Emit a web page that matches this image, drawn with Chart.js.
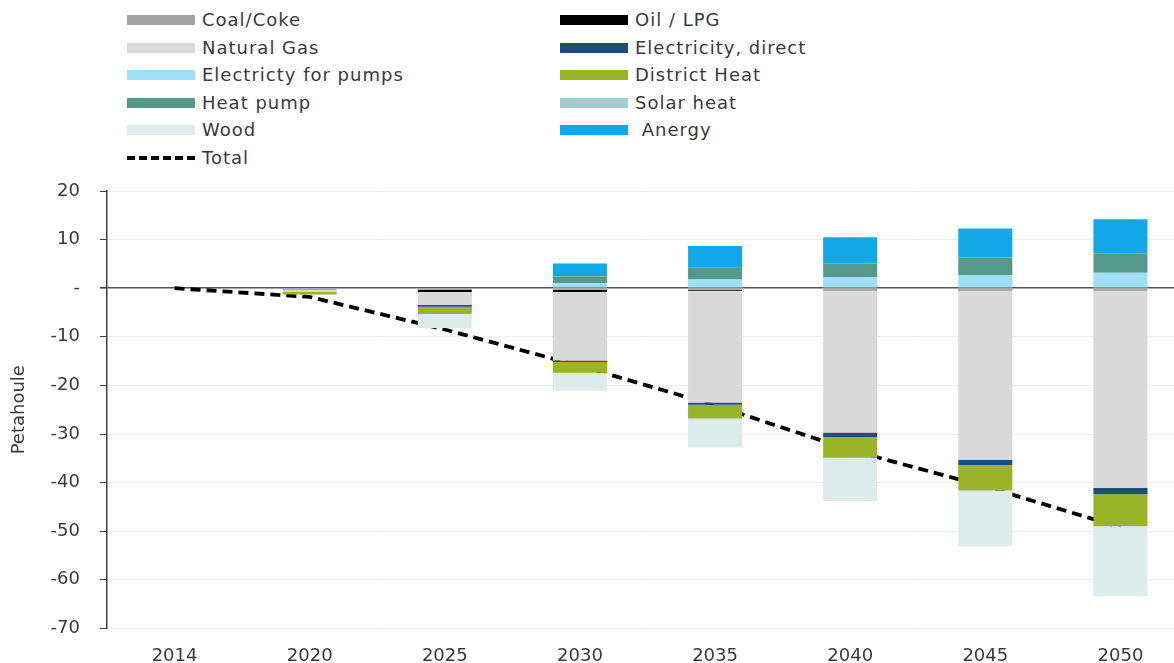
<!DOCTYPE html>
<html>
<head>
<meta charset="utf-8">
<script src="https://cdn.jsdelivr.net/npm/chart.js@4.4.1/dist/chart.umd.min.js"></script>
<style>
    html, body { margin: 0; padding: 0; background: #fff; overflow: hidden; width: 1174px; height: 663px; }
    #wrap { position: absolute; left: 0; top: 0; width: 1188px; height: 663px; }
    #legend { position: absolute; left: 0; top: 0; width: 1174px; height: 175px; font-family: "DejaVu Sans", sans-serif; font-size: 18px; letter-spacing: 1px; color: #3a3a3a; }
    .item { position: absolute; height: 22px; line-height: 22px; white-space: nowrap; }
    .swatch { position: absolute; left: 0; top: 6px; width: 68px; height: 10px; }
    .dash { position: absolute; left: 0; top: 9px; width: 68px; height: 0; border-top: 4px dashed #000; }
    .label { position: absolute; left: 75px; top: 0; }
</style>
</head>
<body>
<div id="legend"></div>
<div id="wrap"><canvas id="chart"></canvas></div>
<script>
// Data (Petajoule change vs. 2014)
const years = ['2014', '2020', '2025', '2030', '2035', '2040', '2045', '2050'];
const coalCoke     = [0, 0,    -0.3, -0.3,  -0.3,  -0.5,  -0.5,  -0.5];
const oilLpg       = [0, -0.2, -0.5, -0.5,  -0.2,  -0.1,  -0.1,  -0.1];
const naturalGas   = [0, -0.6, -2.6, -14.1, -23.0, -29.1, -34.7, -40.5];
const elecDirect   = [0, 0,    -0.4, -0.3,  -0.5,  -0.9,  -1.1,  -1.3];
const elecPumps    = [0, 0,    0,    1.0,   1.8,   2.3,   2.7,   3.2];
const districtHeat = [0, -0.5, -1.5, -2.2,  -2.8,  -4.3,  -5.2,  -6.6];
const heatPump     = [0, 0,    0,    1.4,   2.5,   2.8,   3.6,   4.0];
const solarHeat    = [0, 0,    0,    0,     0,     0,     0,     0];
const wood         = [0, 0,    -2.9, -3.7,  -6.0,  -8.9,  -11.5, -14.4];
const anergy       = [0, 0,    0,    2.7,   4.4,   5.4,   6.0,   7.0];
const total        = [0, -1.8, -8.5, -16.0, -24.1, -33.3, -40.8, -49.2];
const yTicks = [20, 10, 0, -10, -20, -30, -40, -50, -60, -70];

const series = [
    { label: 'Coal/Coke', data: coalCoke, color: '#a3a3a3' },
    { label: 'Oil / LPG', data: oilLpg, color: '#000000' },
    { label: 'Natural Gas', data: naturalGas, color: '#d9d9d9' },
    { label: 'Electricity, direct', data: elecDirect, color: '#1f4e79' },
    { label: 'Electricty for pumps', data: elecPumps, color: '#9fdff7' },
    { label: 'District Heat', data: districtHeat, color: '#9ab42a' },
    { label: 'Heat pump', data: heatPump, color: '#54998a' },
    { label: 'Solar heat', data: solarHeat, color: '#9fcdd1' },
    { label: 'Wood', data: wood, color: '#dbecea' },
    { label: '\u00a0Anergy', data: anergy, color: '#12a7e6' }
];

const datasets = series.map(s => ({
    type: 'bar',
    label: s.label,
    data: s.data,
    backgroundColor: s.color,
    borderWidth: 0,
    stack: 'energy',
    categoryPercentage: 1,
    barPercentage: 0.4
}));

datasets.push({
    type: 'line',
    label: 'Total',
    data: total,
    borderColor: '#000',
    borderWidth: 3.8,
    borderDash: [10, 6],
    pointRadius: 0,
    fill: false,
    tension: 0,
    stack: 'total'
});

// Legend: two columns, row by row
const legend = document.getElementById('legend');
datasets.forEach((ds, i) => {
    const col = ds.type === 'line' ? 0 : i % 2;
    const row = ds.type === 'line' ? 5 : Math.floor(i / 2);
    const item = document.createElement('div');
    item.className = 'item';
    item.style.left = (col === 0 ? 127 : 560) + 'px';
    item.style.top = (9 + row * 27.6) + 'px';
    const mark = ds.type === 'line'
        ? '<span class="dash"></span>'
        : `<span class="swatch" style="background:${ds.backgroundColor}"></span>`;
    item.innerHTML = mark + `<span class="label">${ds.label}</span>`;
    legend.appendChild(item);
});

const ctx = document.getElementById('chart').getContext('2d');
new Chart(ctx, {
    data: { labels: years, datasets: datasets },
    options: {
        responsive: true,
        maintainAspectRatio: false,
        animation: false,
        layout: { padding: { top: 191, left: 2, right: 0, bottom: -21 } },
        plugins: {
            legend: { display: false },
            tooltip: { enabled: false }
        },
        scales: {
            x: {
                stacked: true,
                grid: { display: false, drawTicks: false },
                border: { display: false },
                ticks: { color: '#3a3a3a', font: { family: 'DejaVu Sans', size: 18 }, padding: 17 }
            },
            y: {
                stacked: true,
                min: -70,
                max: 20,
                afterBuildTicks: axis => { axis.ticks = yTicks.map(v => ({ value: v })); },
                ticks: {
                    color: '#3a3a3a',
                    font: { family: 'DejaVu Sans', size: 18 },
                    padding: 20,
                    callback: v => v === 0 ? '-' : v
                },
                grid: {
                    color: c => c.tick && c.tick.value === 0 ? '#555555' : '#eeeeee',
                    lineWidth: c => c.tick && c.tick.value === 0 ? 1.6 : 1,
                    tickColor: '#404040',
                    tickLength: 7
                },
                border: { display: true, color: '#404040', width: 1.5 },
                title: {
                    display: true,
                    text: 'Petahoule',
                    color: '#3a3a3a',
                    font: { family: 'DejaVu Sans', size: 18 },
                    padding: { top: 7, bottom: 0 }
                }
            }
        }
    }
});
</script>
</body>
</html>
